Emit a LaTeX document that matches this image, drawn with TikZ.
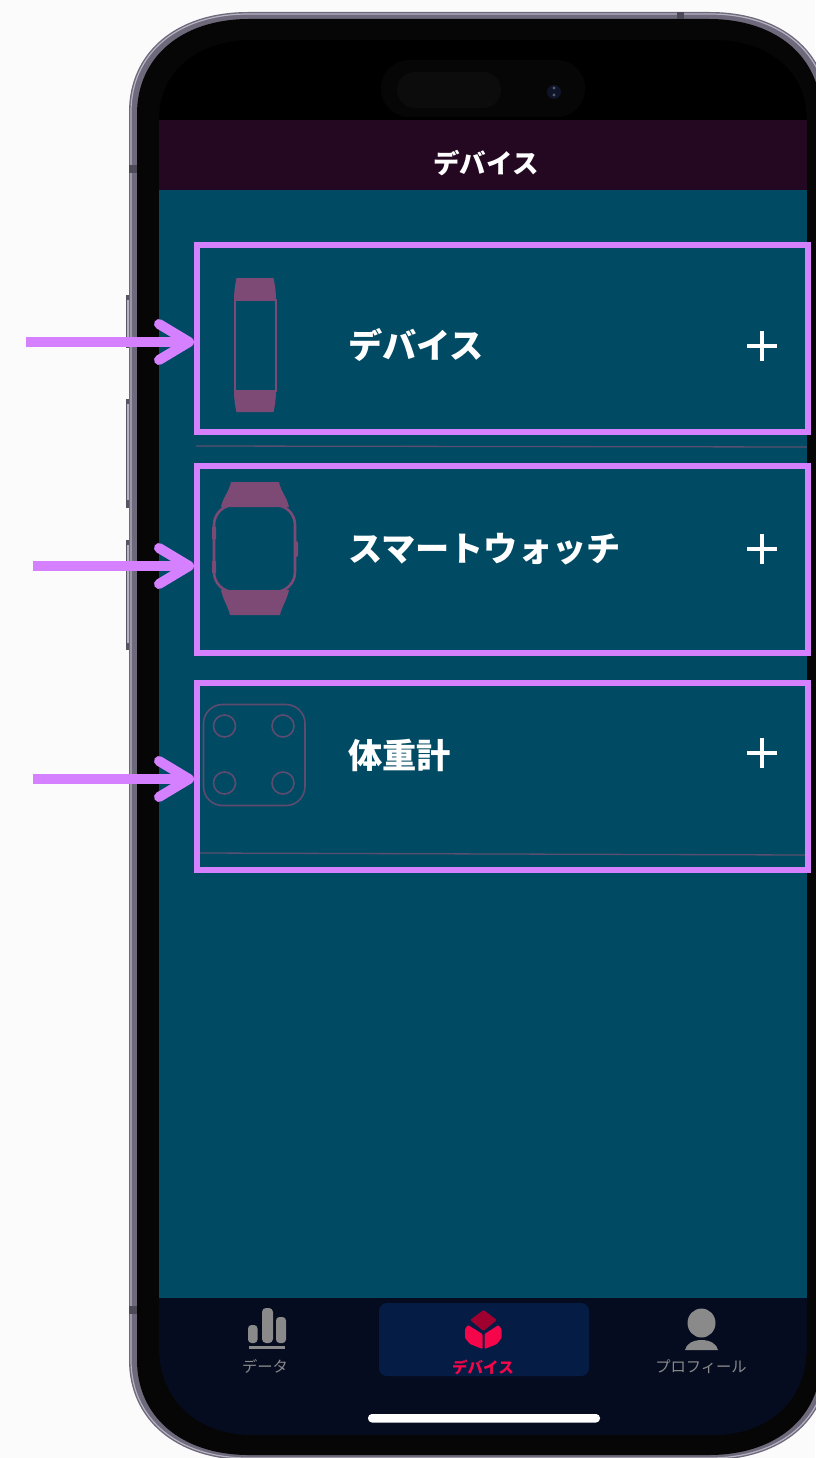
\documentclass[tikz,border=0pt]{standalone}
\usepackage{fontspec}
\newfontfamily\jp{Noto Sans CJK JP}
\usetikzlibrary{arrows.meta}
\definecolor{pagebg}{HTML}{FBFBFB}
\definecolor{framec}{HTML}{6E6A7C}
\definecolor{framehi}{HTML}{B5B2C2}
\definecolor{bezel}{HTML}{060606}
\definecolor{headerc}{HTML}{240822}
\definecolor{tealc}{HTML}{004A63}
\definecolor{navyc}{HTML}{050C20}
\definecolor{tabhi}{HTML}{051C44}
\definecolor{violet}{HTML}{D580FF}
\definecolor{iconc}{HTML}{7D4A75}
\definecolor{scalec}{HTML}{5E4B70}
\definecolor{divc}{HTML}{5A4F70}
\definecolor{grayc}{HTML}{8A8A8A}
\definecolor{redc}{HTML}{F5064A}
\definecolor{darkred}{HTML}{A00030}
\definecolor{islandc}{HTML}{060606}
\definecolor{pillc}{HTML}{0C0C0C}
\definecolor{lensc}{HTML}{101428}
\definecolor{lensdot}{HTML}{555A70}
% squircle path: left top right bottom rx-top ry-top rx-bottom ry-bottom
\newcommand{\sqpath}[8]{
  (#1+#5,#2) -- (#3-#5,#2)
  .. controls (#3-0.40*#5,#2) and (#3,#2+0.40*#6) .. (#3,#2+#6)
  -- (#3,#4-#8)
  .. controls (#3,#4-0.40*#8) and (#3-0.40*#7,#4) .. (#3-#7,#4)
  -- (#1+#7,#4)
  .. controls (#1+0.40*#7,#4) and (#1,#4-0.40*#8) .. (#1,#4-#8)
  -- (#1,#2+#6)
  .. controls (#1,#2+0.40*#6) and (#1+0.40*#5,#2) .. (#1+#5,#2) -- cycle
}
\tikzset{
  itembox/.style={draw=violet,line width=6pt,minimum width=611pt,minimum height=187pt,inner sep=0pt,fill=none},
  callout/.style={draw=violet,line width=9.5pt,-{Straight Barb[length=30pt,width=36pt,line width=10pt,round]}},
  itemlabel/.style={font=\jp\bfseries\fontsize{34.2}{40}\selectfont,text=white,anchor=west,inner sep=0pt},
  headlabel/.style={font=\jp\bfseries\fontsize{26.5}{30}\selectfont,text=white,inner sep=0pt},
  tablabel/.style={font=\jp\fontsize{15.3}{18}\selectfont,text=grayc,inner sep=0pt},
  plusmark/.style={draw=white,line width=3.6pt},
  dividerl/.style={draw=divc,line width=1.3pt},
}
\begin{document}
\begin{tikzpicture}[x=1pt,y=-1pt]
\useasboundingbox (0,0) rectangle (815,1458);
\fill[pagebg] (0,0) rectangle (815,1458);
% side buttons
\fill[framec!80!black] (125.5,295) rectangle (131,348);
\fill[framec!80!black] (125.5,399) rectangle (131,508);
\fill[framec!80!black] (125.5,540) rectangle (131,650);
\fill[framehi] (127,300) rectangle (128.5,344);
\fill[framehi] (127,404) rectangle (128.5,500);
\fill[framehi] (127,545) rectangle (128.5,643);
% phone body
\fill[framec] \sqpath{129}{12}{829}{1460}{119}{100}{119}{100};
\draw[framehi,line width=1.2pt] \sqpath{131}{14}{827}{1458}{117}{98}{117}{98};
\fill[bezel] \sqpath{137}{19}{821}{1455}{112}{95}{112}{95};
% antenna notches
\fill[framec!70!black] (677,12) rectangle (684,19);
\fill[framec!70!black] (129,165) rectangle (137,173);
\fill[framec!70!black] (129,1306) rectangle (137,1314);
% screen
\begin{scope}
\clip \sqpath{159}{40}{807}{1435}{94}{80}{94}{88};
\fill[black] (159,40) rectangle (807,120);
\fill[headerc] (159,120) rectangle (807,190);
\fill[tealc] (159,190) rectangle (807,1298);
\fill[navyc] (159,1298) rectangle (807,1435);
\end{scope}
% island
\fill[islandc,rounded corners=28pt] (381,60) rectangle (585,117);
\fill[pillc,rounded corners=18pt] (397,72) rectangle (501,108);
\fill[lensc] (554,92) circle (7);
\fill[lensdot] (554,88) circle (1.6);
\fill[lensdot] (554,95) circle (1.6);
% header
\node[headlabel] (title) at (486,163) {デバイス};
% dividers
\coordinate (d1a) at (196,446); \coordinate (d1b) at (807,447);
\draw[dividerl] (d1a) -- (d1b);
\coordinate (d2a) at (200,853); \coordinate (d2b) at (805,855);
\draw[dividerl] (d2a) -- (d2b);
% band icon
\fill[iconc] (236.5,278) -- (273.5,278) .. controls (275,285) and (276,292) .. (276,300) -- (234,300) .. controls (234,292) and (235,285) .. (236.5,278) -- cycle;
\fill[iconc] (234,391) -- (276,391) .. controls (276,398) and (275,406) .. (273.5,412) -- (236.5,412) .. controls (235,406) and (234,398) .. (234,391) -- cycle;
\draw[iconc,line width=2pt] (235,300) rectangle (276,391);
% watch icon
\fill[iconc] (231,482) -- (279,482) .. controls (281,492) and (287,497) .. (289,507) -- (221,507) .. controls (223,497) and (229,492) .. (231,482) -- cycle;
\fill[iconc] (221,590) -- (289,590) .. controls (287,600) and (282,606) .. (280,615) -- (230,615) .. controls (228,606) and (223,600) .. (221,590) -- cycle;
\draw[iconc,line width=2.6pt,rounded corners=20pt] (214,505) rectangle (295,592);
\fill[iconc,rounded corners=1.5pt] (294,541) rectangle (298,557);
\fill[iconc,rounded corners=1.5pt] (212,526) rectangle (216,540);
\fill[iconc,rounded corners=1.5pt] (212,560) rectangle (216,574);
% scale icon
\draw[scalec,line width=1.6pt,rounded corners=19pt] (203.5,704.5) rectangle (305,805.5);
\draw[scalec,line width=1.6pt] (224.5,726) circle (11);
\draw[scalec,line width=1.6pt] (283,726) circle (11);
\draw[scalec,line width=1.6pt] (224.5,783) circle (11);
\draw[scalec,line width=1.6pt] (283,783) circle (11);
% item labels
\node[itemlabel] (l1) at (348,345) {デバイス};
\node[itemlabel] (l2) at (348,549) {スマートウォッチ};
\node[itemlabel] (l3) at (348,755) {体重計};
% plus marks
\foreach \yy in {346,549,753}{
  \draw[plusmark] (747,\yy) -- (777,\yy);
  \draw[plusmark] (762,\yy-15) -- (762,\yy+15);
}
% boxes
\node[itembox] (box1) at (502.5,338.5) {};
\node[itembox] (box2) at (502.5,559.5) {};
\node[itembox] (box3) at (502.5,776.5) {};
% arrows
\coordinate (a1) at (26,342); \coordinate (a2) at (33,566); \coordinate (a3) at (33,779);
\draw[callout] (a1) -- (a1 -| box1.west);
\draw[callout] (a2) -- (a2 -| box2.west);
\draw[callout] (a3) -- (a3 -| box3.west);
% tab bar
\fill[tabhi,rounded corners=8pt] (379,1303) rectangle (589,1376);
\fill[grayc,rounded corners=3.5pt] (248,1325) rectangle (257.5,1343);
\fill[grayc,rounded corners=4pt] (262,1308) rectangle (273,1343);
\fill[grayc,rounded corners=3.5pt] (276,1317) rectangle (286,1343);
\fill[grayc] (249,1346) rectangle (285,1349);
\node[tablabel] (t1) at (265,1366) {データ};
% cube
\fill[darkred,rounded corners=1pt] (483.5,1310) -- (497,1320) -- (483.5,1331) -- (470,1320) -- cycle;
\fill[redc,rounded corners=1pt] (465,1329) -- (468,1325) -- (482.5,1334) -- (482.5,1349) -- (470,1344) -- (465,1338) -- cycle;
\fill[redc,rounded corners=1pt] (501.5,1329) -- (498.5,1325) -- (484.5,1334) -- (484.5,1349) -- (497,1344) -- (501.5,1338) -- cycle;
\node[tablabel,text=redc,font=\jp\bfseries\fontsize{15.5}{18}\selectfont] (t2) at (483,1367) {デバイス};
% person
\fill[grayc] (701.5,1323) ellipse (14 and 14.5);
\fill[grayc] (685,1350) .. controls (686,1344) and (693,1340) .. (701.5,1340) .. controls (710,1340) and (717,1344) .. (718,1350) -- cycle;
\node[tablabel] (t3) at (701,1367) {プロフィール};
% home indicator
\fill[white,rounded corners=4pt] (368,1414) rectangle (600,1422.5);
\end{tikzpicture}
\end{document}
